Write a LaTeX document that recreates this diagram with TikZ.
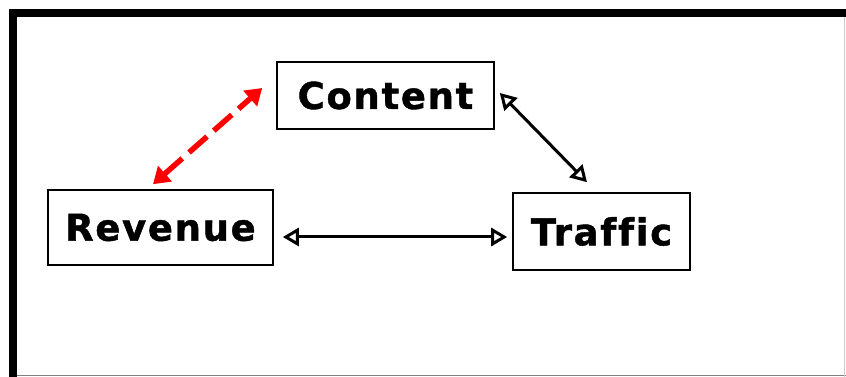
\documentclass[tikz,border=0pt]{standalone}
\usepackage{fontspec}
\setmainfont{DejaVu Sans}[LetterSpace=4.5, Ligatures=NoCommon, BoldFeatures={FakeBold=1.2}]
\usetikzlibrary{calc}
\usetikzlibrary{arrows.meta}

\begin{document}
\begin{tikzpicture}[x=1pt,y=1pt,
  box/.style={draw=black, line width=1.6pt, inner sep=0pt, font=\fontsize{37}{40}\selectfont\bfseries},
  link/.style={black, line width=3pt, {Triangle[open,length=16pt,width=18pt]}-{Triangle[open,length=16pt,width=18pt]}},
  redlink/.style={red, line width=5.5pt, dash pattern=on 24pt off 9pt, {Triangle[length=16pt,width=20pt]}-{Triangle[length=16pt,width=20pt]}}]
\useasboundingbox (0,0) rectangle (846,377);
% frame
\fill[black] (9,360) rectangle (846,368);
\fill[black] (9,0) rectangle (17,368);
\draw[gray, line width=1pt] (17,1.5) -- (846,1.5);
\draw[gray!40, line width=1pt] (844,0) -- (844,360);
% boxes
\node[box, minimum width=217pt, minimum height=67pt] (cont) at (385.5,281.5) {Content};
\node[box, minimum width=225pt, minimum height=75pt] (rev) at (160.5,149.5) {Revenue};
\node[box, minimum width=177pt, minimum height=77pt] (trf) at (601.5,145.5) {Traffic};
% links
\draw[redlink] ($(rev.north)+(-7.5,5)$) -- ($(cont.west)+(-14,7.5)$);
\draw[link] ($(cont.east)+(5,2.5)$) -- ($(trf.north)+(-14.5,10)$);
\draw[link] ($(rev.east)+(9,-9.5)$) -- ($(trf.west)+(-5,-5.5)$);
\end{tikzpicture}
\end{document}
